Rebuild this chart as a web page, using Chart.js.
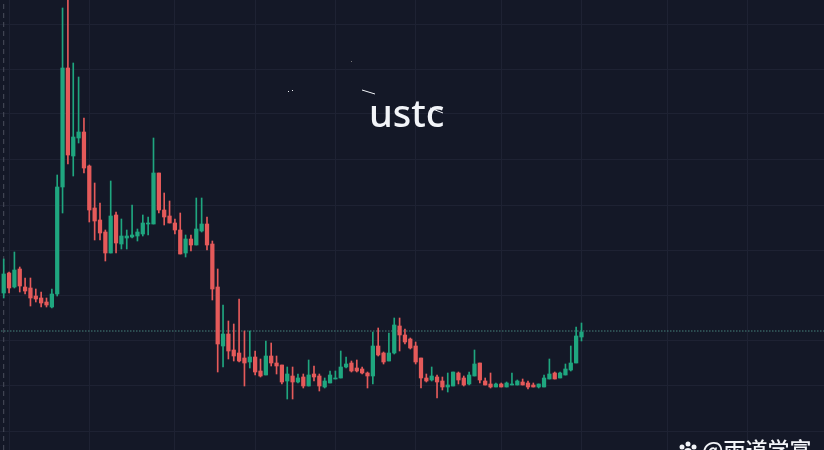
<!DOCTYPE html>
<html>
<head>
<meta charset="utf-8">
<style>
  html, body { margin: 0; padding: 0; background: #141827; overflow: hidden; }
  #wrap { width: 824px; height: 450px; }
</style>
<script src="https://cdn.jsdelivr.net/npm/chart.js@4"></script>
</head>
<body>
<div id="wrap"><canvas id="ustcChart"></canvas></div>
<script>
// candles, price in arbitrary units (no axis labels shown)
const opens = [157,177,163,181,163,162,154,152,148,143,156,263,382,294,312,318,284,242,230,218,197,235,206,212,213,214,216,226,226,277,240,234,227,220,197,211,205,219,226,206,163,104,116,100,97,92,88,93,79,75,94,87,85,69,74,68,73,64,76,74,63,67,71,72,83,87,82,81,77,74,104,97,89,97,124,115,111,104,92,72,70,73,69,63,64,77,72,66,74,87,69,66,63,66,63,65,65,68,67,65,63,63,71,77,72,75,80,87,113];
const closes = [176,162,180,164,159,152,151,147,145,156,263,382,295,313,318,282,240,229,217,197,234,207,214,214,215,218,227,227,277,240,233,227,220,196,211,205,221,226,205,161,106,116,99,94,89,87,93,78,74,94,87,84,68,76,68,72,64,75,73,64,69,75,72,83,86,79,79,77,74,104,95,88,97,125,115,108,102,88,72,69,74,68,63,65,78,70,65,75,86,70,65,63,66,63,67,66,69,65,63,63,66,72,76,71,77,81,87,114,118];
const highs = [191,178,198,183,172,172,161,158,152,161,275,442,455,387,373,332,285,267,247,220,269,238,231,220,245,221,235,233,312,277,257,249,231,237,215,215,252,252,233,209,181,145,129,126,151,119,119,99,91,109,107,94,85,83,83,76,76,90,84,76,72,79,79,99,93,89,90,83,78,118,122,98,117,132,132,121,112,108,92,76,83,75,73,77,78,78,74,78,100,87,72,77,67,67,68,77,70,71,69,67,66,75,91,78,78,86,104,123,127];
const lows = [152,157,162,158,156,144,148,143,143,142,154,237,286,274,307,277,228,210,210,189,197,197,201,201,212,209,214,215,226,237,225,227,216,196,193,199,205,218,200,150,78,83,91,89,88,64,82,75,73,75,84,76,66,51,51,67,62,64,69,59,62,67,71,72,82,78,78,76,62,66,94,86,89,96,99,106,101,86,62,68,69,52,60,58,64,66,64,65,74,67,65,62,63,63,63,65,65,65,61,63,62,63,71,71,72,75,79,87,109];
const lastPrice = 119;

// grid positions (candle index / price), not evenly spaced in x because of the dates
const gridIndexes = [1,16,32,47,62,77,93,108,124,139];
const gridPrices = [19,65,110,155,200,245,290,336,381,426];

const upColor = '#1fa67f';
const downColor = '#e55a5a';
const candleColors = opens.map((o, i) => closes[i] >= o ? upColor : downColor);

const wickData = highs.map((h, i) => ({ x: i, y: [lows[i], h] }));
const bodyData = opens.map((o, i) => ({ x: i, y: [o, closes[i]] }));

// text and the little white specks on top of the chart
const overlay = {
    id: 'overlay',
    afterDraw(chart) {
        const c = chart.ctx;
        c.save();
        c.fillStyle = '#f2f4f8';
        c.font = '500 38px "Noto Sans"';
        c.fillText('ustc', 369, 127);

        c.strokeStyle = '#f2f4f8';
        c.lineWidth = 1;
        c.beginPath();
        c.moveTo(362, 90); c.lineTo(375, 94);
        c.moveTo(430, 108); c.lineTo(443, 113);
        c.stroke();
        c.fillRect(288, 91, 1, 1);
        c.fillRect(292, 90, 1, 1);
        c.fillStyle = '#777';
        c.fillRect(351, 61, 1, 1);

        // watermark, cut off by the bottom edge
        c.fillStyle = '#f2f4f8';
        c.font = '500 22px "Noto Sans CJK SC"';
        c.fillText('@雨道学富', 702, 458);
        [[682, 447, 2.5], [688, 444, 2.5], [694, 447, 2.5], [688, 452, 4]].forEach(p => {
            c.beginPath();
            c.arc(p[0], p[1], p[2], 0, Math.PI * 2);
            c.fill();
        });
        c.restore();
    }
};

const ctx = document.getElementById('ustcChart').getContext('2d');

new Chart(ctx, {
    data: {
        datasets: [
            {
                type: 'line',
                data: [{ x: -1, y: lastPrice }, { x: 154, y: lastPrice }],
                borderColor: '#5fb8a6',
                borderWidth: 1,
                borderDash: [1, 2],
                pointRadius: 0,
                order: 3
            },
            {
                type: 'line',
                data: [{ x: 0, y: 0 }, { x: 0, y: 450 }],
                borderColor: '#4a4e5c',
                borderWidth: 1,
                borderDash: [5, 4],
                pointRadius: 0,
                order: 3
            },
            {
                type: 'bar',
                data: wickData,
                backgroundColor: candleColors,
                barThickness: 1,
                grouped: false,
                order: 2
            },
            {
                type: 'bar',
                data: bodyData,
                backgroundColor: candleColors,
                barThickness: 3.6,
                grouped: false,
                order: 1
            }
        ]
    },
    options: {
        responsive: true,
        maintainAspectRatio: false,
        animation: false,
        layout: { padding: 0 },
        plugins: {
            legend: { display: false },
            tooltip: { enabled: false }
        },
        scales: {
            x: {
                type: 'linear',
                offset: false,
                min: -0.692,
                max: 153.33,
                afterBuildTicks: axis => { axis.ticks = gridIndexes.map(v => ({ value: v })); },
                ticks: { display: false },
                border: { display: false },
                grid: { color: '#1e2233', drawTicks: false, offset: false }
            },
            y: {
                type: 'linear',
                min: 0,
                max: 450,
                afterBuildTicks: axis => { axis.ticks = gridPrices.map(v => ({ value: v })); },
                ticks: { display: false },
                border: { display: false },
                grid: { color: '#1e2233', drawTicks: false }
            }
        }
    },
    plugins: [overlay]
});
</script>
</body>
</html>
